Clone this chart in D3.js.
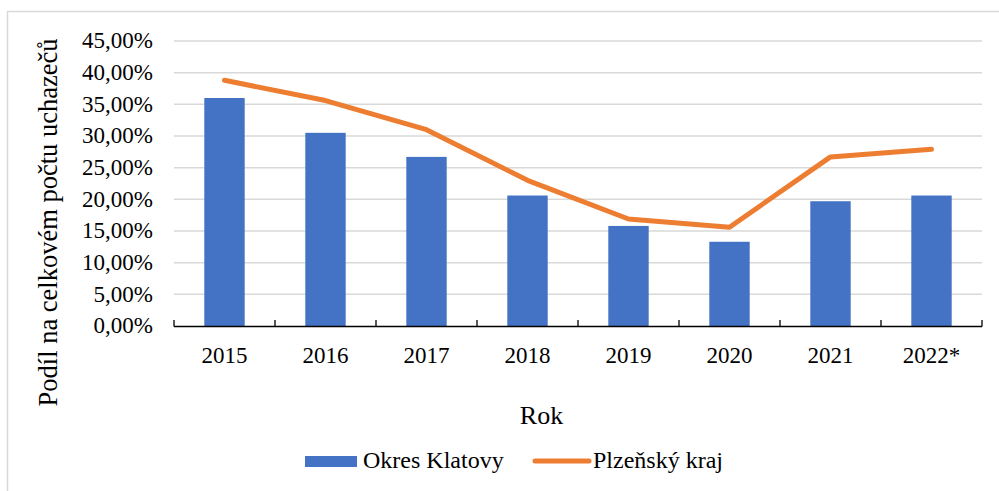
<!DOCTYPE html>
<html>
<head>
<meta charset="utf-8">
<script src="https://cdn.jsdelivr.net/npm/d3@7"></script>
<style>
  html, body { margin: 0; padding: 0; background: #fff; }
  svg { display: block; }
</style>
</head>
<body>
<svg id="chart" width="999" height="491"></svg>
<script>
const years = ["2015", "2016", "2017", "2018", "2019", "2020", "2021", "2022*"];
const okresKlatovy = [36.0, 30.5, 26.7, 20.6, 15.8, 13.3, 19.7, 20.6];
const plzenskyKraj = [38.8, 35.6, 31.0, 23.0, 16.9, 15.6, 26.7, 27.9];
const yTicks = [0, 5, 10, 15, 20, 25, 30, 35, 40, 45];
const seriesNames = ["Okres Klatovy", "Plzeňský kraj"];
const yTitle = "Podíl na celkovém počtu uchazečů";
const xTitle = "Rok";

(function () {
const FONT = "'Liberation Serif', Tinos, 'Times New Roman', Times, 'DejaVu Serif', serif";
const svg = d3.select("#chart");
const FS = 23;
const pL = 174, pR = 982, pT = 41, pB = 326;

// chart border
svg.append("rect").attr("x", 7.5).attr("y", 11.5).attr("width", 1100).attr("height", 600)
  .attr("fill", "none").attr("stroke", "#d9d9d9").attr("stroke-width", 1.5);

const x = d3.scaleBand().domain(years).range([pL, pR]).paddingInner(0.6).paddingOuter(0.3);
const y = d3.scaleLinear().domain([0, 45]).range([pB, pT]);

// gridlines
svg.append("g").selectAll("line").data(yTicks.filter(d => d > 0)).join("line")
  .attr("x1", pL).attr("x2", pR)
  .attr("y1", d => y(d)).attr("y2", d => y(d))
  .attr("stroke", "#d9d9d9").attr("stroke-width", 1.5);

// y axis labels
const yAxis = d3.axisLeft(y).tickValues(yTicks).tickSize(0).tickPadding(0)
  .tickFormat(d => d3.format(".2f")(d).replace(".", ",") + "%");
const gy = svg.append("g").attr("transform", `translate(153,0)`).call(yAxis)
  .attr("font-family", FONT).attr("font-size", FS);
gy.select(".domain").remove();
gy.selectAll("text").attr("fill", "#000").attr("dy", "0.3em");

// bars
svg.append("g").selectAll("rect").data(okresKlatovy).join("rect")
  .attr("x", (d, i) => x(years[i]))
  .attr("width", x.bandwidth())
  .attr("y", d => y(d))
  .attr("height", d => y(0) - y(d))
  .attr("fill", "#4472c4");

// x axis
const xb = d3.scaleBand().domain(years).range([pL, pR]);
const gx = svg.append("g").attr("transform", `translate(0,${pB})`);
gx.append("line").attr("x1", pL).attr("x2", pR).attr("y1", 0.5).attr("y2", 0.5)
  .attr("stroke", "#000").attr("stroke-width", 1.3);
const bounds = years.map(d => xb(d)).concat([pR]);
gx.selectAll(".tk").data(bounds).join("line").attr("class", "tk")
  .attr("x1", d => d).attr("x2", d => d).attr("y1", -6).attr("y2", 0.5)
  .attr("stroke", "#000").attr("stroke-width", 1.3);
gx.selectAll(".lbl").data(years).join("text").attr("class", "lbl")
  .attr("x", d => xb(d) + xb.bandwidth() / 2).attr("y", 37)
  .attr("text-anchor", "middle").attr("font-family", FONT).attr("font-size", FS).text(d => d);

// line
const line = d3.line().x((d, i) => x(years[i]) + x.bandwidth() / 2).y(d => y(d));
svg.append("path").datum(plzenskyKraj).attr("d", line)
  .attr("fill", "none").attr("stroke", "#ed7d31").attr("stroke-width", 5)
  .attr("stroke-linecap", "round").attr("stroke-linejoin", "round");

// titles
svg.append("text").attr("transform", "translate(57,222.5) rotate(-90)")
  .attr("text-anchor", "middle").attr("font-family", FONT).attr("font-size", 26.5).text(yTitle);
svg.append("text").attr("x", 541.5).attr("y", 424).attr("text-anchor", "middle")
  .attr("font-family", FONT).attr("font-size", 26).text(xTitle);

// legend
const lg = svg.append("g").attr("font-family", FONT).attr("font-size", 24);
lg.append("rect").attr("x", 305).attr("y", 456).attr("width", 52).attr("height", 11).attr("fill", "#4472c4");
lg.append("text").attr("x", 363).attr("y", 468).text(seriesNames[0]);
lg.append("line").attr("x1", 535).attr("x2", 589).attr("y1", 461).attr("y2", 461)
  .attr("stroke", "#ed7d31").attr("stroke-width", 5).attr("stroke-linecap", "round");
lg.append("text").attr("x", 593).attr("y", 468).text(seriesNames[1]);
})();
</script>
</body>
</html>
